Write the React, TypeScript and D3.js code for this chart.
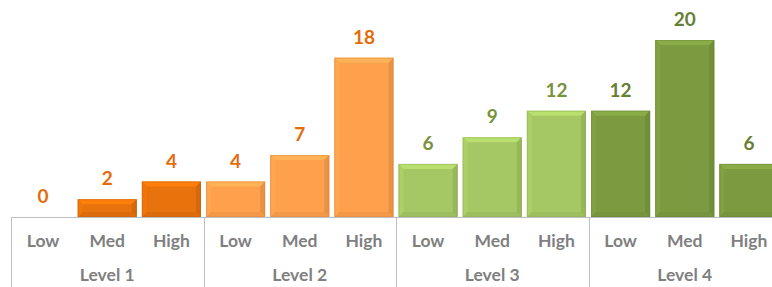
import * as d3 from "d3";
import { useEffect, useRef } from "react";

const levels = ["Level 1", "Level 2", "Level 3", "Level 4"];
const grades = ["Low", "Med", "High"];
const values = [
	[0, 2, 4],
	[4, 7, 18],
	[6, 9, 12],
	[12, 20, 6],
];
const barColors = ["#E8720C", "#FFA04D", "#A6C864", "#7C9B40"];
const labelColors = ["#E46C0A", "#E46C0A", "#77933C", "#667F33"];

interface Cell {
	level: number;
	grade: number;
	value: number;
	key: string;
}

function App() {
	const ref = useRef<SVGSVGElement>(null);

	useEffect(() => {
		const svg = d3.select(ref.current);
		svg.selectAll("*").remove();

		const cells: Cell[] = [];
		values.forEach((row, li) => {
			row.forEach((v, gi) => {
				cells.push({ level: li, grade: gi, value: v, key: li + "-" + gi });
			});
		});

		const x = d3
			.scaleBand<string>()
			.domain(cells.map((c) => c.key))
			.range([11, 781])
			.paddingInner(0.08)
			.paddingOuter(0.04);
		const step = x.step();
		const left = 11;
		const y = d3.scaleLinear().domain([0, 20]).range([217, 40]);
		const base = y(0);

		const font = "Lato, 'Open Sans', sans-serif";

		// bars with a soft bevel
		const g = svg.append("g");
		cells.forEach((c) => {
			if (c.value <= 0) return;
			const bx = x(c.key)!;
			const bw = x.bandwidth();
			const top = y(c.value);
			const h = base - top;
			const col = barColors[c.level];
			const b = Math.min(5, h / 2);
			const shade = (k: number) =>
				k >= 0
					? d3.color(col)!.brighter(k).formatHex()
					: d3.color(col)!.darker(-k).formatHex();
			g.append("rect")
				.attr("x", bx)
				.attr("y", top)
				.attr("width", bw)
				.attr("height", h)
				.attr("fill", col);
			g.append("path")
				.attr("d", `M${bx},${top}L${bx + bw},${top}L${bx + bw - b},${top + b}L${bx + b},${top + b}Z`)
				.attr("fill", shade(0.3));
			g.append("path")
				.attr("d", `M${bx},${top}L${bx + b},${top + b}L${bx + b},${base - b}L${bx},${base}Z`)
				.attr("fill", shade(0.1));
			g.append("path")
				.attr("d", `M${bx + bw},${top}L${bx + bw - b},${top + b}L${bx + bw - b},${base - b}L${bx + bw},${base}Z`)
				.attr("fill", shade(-0.25));
			g.append("path")
				.attr("d", `M${bx},${base}L${bx + bw},${base}L${bx + bw - b},${base - b}L${bx + b},${base - b}Z`)
				.attr("fill", shade(-0.15));
			g.append("rect")
				.attr("x", bx + 0.5)
				.attr("y", top + 0.5)
				.attr("width", bw - 1)
				.attr("height", h - 1)
				.attr("fill", "none")
				.attr("stroke", shade(-0.5))
				.attr("stroke-opacity", 0.4);
		});

		// value labels
		svg.append("g")
			.selectAll("text")
			.data(cells)
			.enter()
			.append("text")
			.attr("x", (c) => x(c.key)! + x.bandwidth() / 2)
			.attr("y", (c) => y(c.value) - 14)
			.attr("text-anchor", "middle")
			.style("font-family", font)
			.style("font-weight", "bold")
			.style("font-size", "19px")
			.style("fill", (c) => labelColors[c.level])
			.text((c) => c.value);

		// axis
		const axis = svg.append("g");
		axis.append("line")
			.attr("x1", left)
			.attr("x2", 772)
			.attr("y1", base + 0.5)
			.attr("y2", base + 0.5)
			.attr("stroke", "#BFBFBF");
		levels.forEach((_, li) => {
			const lx = Math.round(left + li * step * 3) + 0.5;
			axis.append("line")
				.attr("x1", lx)
				.attr("x2", lx)
				.attr("y1", base)
				.attr("y2", 287)
				.attr("stroke", "#BFBFBF");
		});

		axis.selectAll("text.grade")
			.data(cells)
			.enter()
			.append("text")
			.attr("class", "grade")
			.attr("x", (c) => x(c.key)! + x.bandwidth() / 2)
			.attr("y", 247)
			.attr("text-anchor", "middle")
			.style("font-family", font)
			.style("font-weight", "bold")
			.style("font-size", "17.5px")
			.style("fill", "#7F7F7F")
			.text((c) => grades[c.grade]);

		axis.selectAll("text.level")
			.data(levels)
			.enter()
			.append("text")
			.attr("class", "level")
			.attr("x", (_, li) => left + li * step * 3 + step * 1.5)
			.attr("y", 281)
			.attr("text-anchor", "middle")
			.style("font-family", font)
			.style("font-weight", "bold")
			.style("font-size", "17.5px")
			.style("fill", "#7F7F7F")
			.text((d) => d);
	}, []);

	return (
		<svg
			ref={ref}
			width={772}
			height={287}
			style={{ position: "absolute", left: 0, top: 0, background: "white" }}
		></svg>
	);
}

export default App;
